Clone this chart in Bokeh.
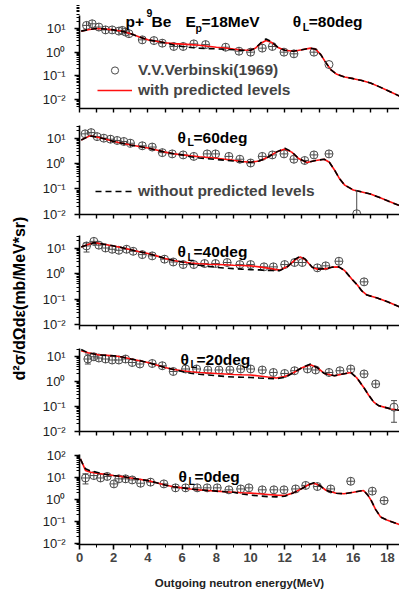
from math import pi
from bokeh.plotting import figure
from bokeh.models import (Range1d, FixedTicker, Label, Whisker, ColumnDataSource,
                          Legend, LegendItem, TeeHead)
from bokeh.layouts import row, column
from bokeh.embed import file_html
from bokeh.resources import INLINE

FONT = "Liberation Sans"
RED = "#ff1010"
PT = "#4a4a4a"
X_MAX = 18.7

# ---------------- data (E in MeV, d2sigma in mb/MeV/sr) ----------------
ANGLES = [80, 60, 40, 20, 0]

E80 = [0.1, 0.5, 1.0, 1.5, 2.0, 2.5, 3.0, 3.5, 4.0, 4.5, 5.0, 5.5, 6.0, 6.5, 7.0, 7.5, 8.0, 8.5, 9.0, 9.5,
       10.0, 10.3, 10.6, 10.9, 11.2, 11.6, 12.0, 12.5, 13.0, 13.5, 13.8, 14.1, 14.4, 14.7, 15.0, 15.5, 16.0,
       16.5, 17.0, 17.5, 18.0, 18.7]
RED80 = [7.76, 8.91, 10.0, 9.55, 8.71, 7.59, 6.03, 4.37, 3.31, 2.88, 2.51, 2.29, 2.19, 2.09, 1.95, 1.78, 1.62,
         1.51, 1.35, 1.23, 1.20, 1.51, 2.40, 3.09, 2.63, 1.58, 1.20, 1.10, 1.26, 1.48, 1.32, 0.79, 0.355,
         0.178, 0.12, 0.089, 0.076, 0.063, 0.05, 0.035, 0.024, 0.014]
BLK80 = [7.76, 8.91, 10.0, 9.55, 8.71, 7.59, 6.03, 4.37, 3.31, 2.88, 2.51, 2.0, 1.74, 1.58, 1.48, 1.41, 1.38,
         1.32, 1.26, 1.20, 1.20, 1.51, 2.51, 3.63, 2.82, 1.58, 1.20, 1.10, 1.26, 1.48, 1.32, 0.79, 0.355,
         0.178, 0.12, 0.089, 0.076, 0.063, 0.05, 0.035, 0.024, 0.014]

E60 = [0.1, 0.6, 1.0, 1.5, 2.0, 2.5, 3.0, 3.5, 4.0, 4.5, 5.0, 5.5, 6.0, 6.5, 7.0, 7.5, 8.0, 8.5, 9.0, 9.5,
       10.0, 10.5, 11.0, 11.5, 12.0, 12.4, 12.8, 13.3, 13.8, 14.3, 14.6, 14.9, 15.2, 15.5, 16.0, 16.5, 17.0,
       17.5, 18.0, 18.7]
RED60 = [8.51, 12.3, 11.2, 9.33, 7.41, 6.31, 5.37, 4.68, 4.07, 3.39, 2.82, 2.45, 2.19, 2.0, 1.86, 1.74, 1.62,
         1.48, 1.35, 1.20, 1.12, 1.26, 1.78, 2.82, 3.72, 2.82, 1.58, 1.10, 1.32, 1.48, 1.12, 0.56, 0.25,
         0.141, 0.091, 0.076, 0.063, 0.047, 0.034, 0.022]
BLK60 = [8.51, 12.3, 11.2, 9.33, 7.41, 6.31, 5.37, 4.68, 4.07, 3.39, 2.82, 2.45, 2.19, 1.86, 1.66, 1.55, 1.45,
         1.35, 1.26, 1.17, 1.12, 1.26, 1.78, 2.82, 3.98, 2.95, 1.58, 1.10, 1.32, 1.48, 1.12, 0.56, 0.25,
         0.141, 0.091, 0.076, 0.063, 0.047, 0.034, 0.022]

E40 = [0.1, 0.5, 0.85, 1.5, 2.0, 2.5, 3.0, 3.5, 4.0, 4.5, 5.0, 5.5, 6.0, 6.5, 7.0, 7.5, 8.0, 8.5, 9.0, 9.5,
       10.0, 10.5, 11.0, 11.7, 12.2, 12.6, 12.9, 13.2, 13.6, 13.9, 14.4, 14.8, 15.15, 15.5, 15.9, 16.25,
       16.5, 16.8, 17.4, 18.0, 18.7]
RED40 = [11.2, 14.1, 16.6, 14.1, 12.3, 10.5, 8.71, 7.24, 6.17, 5.01, 3.98, 3.31, 2.88, 2.63, 2.45, 2.34, 2.29,
         2.24, 2.14, 2.09, 2.04, 1.86, 1.66, 1.38, 2.0, 3.55, 4.57, 3.55, 1.78, 1.51, 1.58, 1.82, 1.86, 1.32,
         0.63, 0.355, 0.21, 0.145, 0.112, 0.079, 0.05]
BLK40 = [11.2, 14.1, 16.6, 14.1, 12.3, 10.5, 8.71, 7.24, 6.17, 5.01, 3.98, 3.31, 2.88, 2.40, 2.14, 1.95, 1.78,
         1.66, 1.58, 1.51, 1.45, 1.41, 1.35, 1.32, 2.0, 3.72, 4.90, 3.72, 1.78, 1.51, 1.58, 1.82, 1.86, 1.32,
         0.63, 0.355, 0.21, 0.145, 0.112, 0.079, 0.05]

E20 = [0.1, 0.5, 1.1, 2.0, 2.5, 3.0, 3.5, 4.0, 4.5, 5.0, 5.5, 6.0, 6.5, 7.0, 7.5, 8.0, 8.5, 9.0, 9.5, 10.0,
       10.5, 11.0, 11.5, 12.0, 12.5, 13.0, 13.5, 13.9, 14.3, 14.9, 15.4, 15.85, 16.2, 16.6, 16.9, 17.2, 17.5,
       17.8, 18.2, 18.7]
RED20 = [17.0, 14.1, 11.7, 10.7, 9.55, 7.94, 6.76, 5.75, 4.57, 3.63, 3.02, 2.69, 2.45, 2.29, 2.19, 2.09, 2.0,
         1.91, 1.86, 1.82, 1.66, 1.51, 1.38, 1.58, 2.24, 3.55, 4.68, 3.55, 2.09, 1.70, 2.0, 2.29, 1.41, 0.59,
         0.28, 0.148, 0.105, 0.093, 0.079, 0.069]
BLK20 = [19.1, 14.1, 11.7, 10.7, 9.55, 7.94, 6.76, 5.75, 4.57, 3.63, 3.02, 2.51, 2.14, 1.95, 1.82, 1.70, 1.58,
         1.51, 1.48, 1.45, 1.38, 1.32, 1.29, 1.45, 2.24, 3.55, 5.01, 3.55, 2.09, 1.70, 2.0, 2.29, 1.41, 0.59,
         0.28, 0.148, 0.105, 0.093, 0.079, 0.069]

E0 = [0.05, 0.2, 0.35, 0.65, 1.0, 1.5, 2.0, 2.5, 3.0, 3.5, 4.0, 4.5, 5.0, 5.5, 6.0, 6.5, 7.0, 7.5, 8.0, 8.5,
      9.0, 9.5, 10.0, 10.5, 11.0, 11.5, 12.0, 12.5, 13.0, 13.4, 13.7, 14.0, 14.4, 15.0, 15.46, 16.0, 16.6,
      16.85, 17.05, 17.3, 17.6, 18.0, 18.4, 18.7]
RED0 = [70.8, 39.8, 20.9, 17.4, 15.8, 14.1, 12.3, 11.0, 9.55, 8.32, 7.24, 5.75, 4.57, 3.80, 3.39, 3.02, 2.75,
        2.57, 2.40, 2.24, 2.14, 2.04, 1.95, 1.82, 1.70, 1.58, 1.51, 2.0, 3.16, 4.79, 5.50, 4.47, 2.63, 1.91,
        1.82, 2.14, 2.57, 1.58, 0.89, 0.355, 0.158, 0.112, 0.087, 0.072]
BLK0 = [70.8, 39.8, 25.1, 20.0, 17.4, 14.1, 12.3, 11.0, 9.55, 8.32, 7.24, 5.75, 4.57, 3.80, 3.39, 3.02, 2.75,
        2.57, 2.40, 2.24, 2.14, 1.78, 1.58, 1.45, 1.35, 1.32, 1.41, 2.0, 3.16, 4.79, 5.75, 4.57, 2.63, 1.91,
        1.82, 2.14, 2.57, 1.58, 0.89, 0.355, 0.158, 0.112, 0.087, 0.072]

# experimental points (V.V.Verbinski 1969)
X80 = [0.41, 0.74, 1.13, 1.52, 1.91, 2.30, 2.50, 2.69, 2.89, 3.67, 4.35, 4.84, 5.51, 6.06, 6.68, 7.37, 8.54,
       9.32, 10.0, 10.68, 11.27, 11.95, 12.53, 13.70]
Y80 = [13.5, 15.8, 11.5, 8.71, 8.71, 7.76, 8.32, 7.08, 6.03, 3.31, 3.09, 2.40, 1.74, 1.74, 2.24, 2.09, 1.62,
       1.10, 1.0, 1.48, 1.74, 1.0, 0.85, 1.0]
OX80, OY80 = [14.58], [0.30]

X60 = [0.33, 0.68, 1.03, 1.42, 1.81, 2.2, 2.59, 2.98, 3.67, 4.25, 4.84, 5.42, 6.06, 6.68, 7.46, 7.95, 8.73,
       9.37, 10.0, 10.68, 11.27, 11.95, 12.53, 13.16, 13.7, 14.58]
Y60 = [14.8, 16.6, 11.5, 10.0, 9.12, 8.13, 7.41, 6.31, 5.01, 4.47, 2.69, 2.40, 2.19, 1.91, 2.40, 2.40, 1.91,
       1.48, 1.05, 1.91, 2.19, 2.40, 1.48, 1.32, 2.19, 2.40]
OX60, OY60 = [16.2], [0.0105]
OERR60 = [0.09]

X40 = [0.41, 0.84, 1.13, 1.52, 1.91, 2.3, 2.75, 3.14, 3.67, 4.25, 4.97, 5.48, 6.06, 6.68, 7.31, 7.95, 8.63,
       9.37, 10.0, 10.78, 11.33, 11.99, 12.57, 13.02, 13.9, 14.39, 15.16, 16.63]
Y40 = [12.3, 18.6, 13.2, 10.2, 9.12, 8.32, 9.12, 7.59, 5.62, 5.01, 3.72, 2.88, 2.29, 2.29, 2.51, 2.51, 2.75,
       2.29, 2.29, 1.86, 1.86, 2.29, 2.75, 2.75, 1.70, 2.04, 3.09, 0.48]
ERR40 = dict(base=[0.41], lower=[7.1], upper=[16.0])

X20 = [0.49, 0.84, 1.13, 1.52, 1.91, 2.3, 2.69, 3.08, 3.53, 4.25, 4.84, 5.48, 6.2, 6.84, 7.5, 8.15, 8.79,
       9.42, 10.0, 10.68, 11.33, 11.99, 12.57, 13.32, 13.8, 14.58, 15.22, 15.85, 16.63, 17.31]
Y20 = [7.94, 9.77, 8.71, 7.94, 7.24, 7.24, 7.94, 5.75, 5.01, 5.25, 4.27, 2.51, 3.16, 3.16, 2.88, 2.88, 2.88,
       3.16, 3.16, 2.88, 2.29, 2.09, 2.69, 3.16, 2.88, 2.29, 2.69, 3.16, 2.0, 0.79]
OX20, OY20 = [18.38], [0.093]
ERR20 = dict(base=[0.49, 18.38], lower=[5.0, 0.023], upper=[12.6, 0.17])

X0 = [0.35, 0.84, 1.23, 1.62, 2.01, 2.3, 2.69, 3.08, 3.57, 4.15, 4.93, 5.61, 6.2, 6.88, 7.46, 8.05, 8.73,
      9.42, 9.9, 10.68, 11.36, 11.95, 12.63, 13.22, 13.9, 14.68, 15.85, 17.11, 17.8]
Y0 = [9.55, 12.3, 9.55, 11.2, 5.13, 8.71, 8.71, 7.76, 5.50, 6.17, 5.13, 3.39, 3.39, 3.39, 3.39, 3.39, 2.75,
      3.02, 3.39, 2.75, 2.75, 2.75, 3.02, 4.37, 3.89, 3.02, 6.76, 2.40, 0.89]
ERR0 = dict(base=[0.35], lower=[5.1], upper=[14.8])

X_TICKS = [0, 2, 4, 6, 8, 10, 12, 14, 16, 18]
X_MINOR = [1, 3, 5, 7, 9, 11, 13, 15, 17]
Y_TICKS = [0.01, 0.1, 1, 10, 100]
Y_TICK_LABELS = ["10\u207b\u00b2", "10\u207b\u00b9", "10\u2070", "10\u00b9", "10\u00b2"]

# ---------------- layout ----------------
TOTAL_W, TOTAL_H = 399, 592
TITLE_W = 30
FIG_W = TOTAL_W - TITLE_W
LEFT = 49

specs = [
    # yr: visible range, yb: axis bounds (None = whole range)
    dict(E=E80, R=RED80, B=BLK80, X=X80, Y=Y80, yr=(0.00417, 113.8), yb=(0.00417, 35.5), h=116, t=3, b=8,
         yt=Y_TICKS[:4]),
    dict(E=E60, R=RED60, B=BLK60, X=X60, Y=Y60, yr=(0.0098, 31.6), yb=None, h=108, t=9, b=10, yt=Y_TICKS[:4]),
    dict(E=E40, R=RED40, B=BLK40, X=X40, Y=Y40, yr=(0.0093, 31.6), yb=None, h=112, t=11, b=11, yt=Y_TICKS[:4]),
    dict(E=E20, R=RED20, B=BLK20, X=X20, Y=Y20, yr=(0.0098, 21.0), yb=None, h=106, t=12, b=11, yt=Y_TICKS[:4]),
    dict(E=E0, R=RED0, B=BLK0, X=X0, Y=Y0, yr=(0.0089, 112.0), yb=None, h=150, t=12, b=48, yt=Y_TICKS),
]

# title anchor (E), base y, sub y
TITLE_POS = [(12.46, 20.3, 11.35), (5.73, 10.2, 7.15), (5.73, 7.16, 4.57), (5.9, 7.87, 5.13), (5.79, 11.1, 6.6)]

minor_y = [k * 10.0 ** d for d in range(-3, 3) for k in range(2, 10)]


def label(p, x, y, text, size="15.5px", xo=0, bold=True):
    p.add_layout(Label(x=x, y=y, x_offset=xo, text=text, text_font=FONT, text_font_size=size,
                       text_font_style="bold" if bold else "normal", text_color="black",
                       text_baseline="alphabetic", text_align="left"))


figs = []
for i, s in enumerate(specs):
    last = i == len(specs) - 1
    p = figure(width=FIG_W, height=s["h"], y_axis_type="log",
               x_range=Range1d(0, X_MAX), y_range=Range1d(*s["yr"]),
               toolbar_location=None, output_backend="svg",
               min_border_left=LEFT, min_border_right=0,
               min_border_top=s["t"], min_border_bottom=s["b"])
    p.outline_line_color = None
    p.grid.visible = False
    p.background_fill_color = "white"

    # axes
    if last:
        p.xaxis.ticker = FixedTicker(ticks=X_TICKS, minor_ticks=X_MINOR)
    else:
        # unlabeled panels: every tick drawn as a (minor) tick, so no tick labels exist
        p.xaxis.ticker = FixedTicker(ticks=[], minor_ticks=sorted(X_TICKS + X_MINOR))
    p.yaxis.ticker = FixedTicker(ticks=s["yt"], minor_ticks=minor_y)
    p.yaxis.major_label_overrides = {t: l for t, l in zip(Y_TICKS, Y_TICK_LABELS) if t in s["yt"]}
    if s["yb"] is not None:
        p.yaxis.bounds = s["yb"]
    for ax in (p.xaxis[0], p.yaxis[0]):
        ax.axis_line_width = 1.6
        ax.axis_line_color = "black"
        ax.major_tick_line_width = 1.6
        ax.minor_tick_line_width = 1
        ax.major_tick_line_color = "black"
        ax.minor_tick_line_color = "black"
        ax.major_tick_in = 0
        ax.minor_tick_in = 0
        ax.major_tick_out = 5
        ax.minor_tick_out = 3
    if not last:
        p.xaxis.minor_tick_out = 4
        p.xaxis.minor_tick_line_width = 1.4
    p.yaxis.major_label_text_font = FONT
    p.yaxis.major_label_text_font_size = "13px"
    p.yaxis.major_label_text_color = "#222222"
    p.yaxis.major_label_standoff = 9
    if last:
        p.xaxis.major_label_text_font = FONT
        p.xaxis.major_label_text_font_size = "13px"
        p.xaxis.major_label_text_font_style = "bold"
        p.xaxis.major_label_standoff = 3
        p.xaxis.axis_label = "Outgoing neutron energy(MeV)"
        p.xaxis.axis_label_text_font = FONT
        p.xaxis.axis_label_text_font_size = "11.5px"
        p.xaxis.axis_label_text_font_style = "bold"
        p.xaxis.axis_label_text_color = "#222222"
        p.xaxis.axis_label_standoff = 12

    # data points
    p.scatter(s["X"], s["Y"], marker="circle_cross", size=8, line_color=PT, line_width=1,
              fill_alpha=0)

    # curves
    red_r = p.line(s["E"], s["R"], line_color=RED, line_width=1.6)
    blk_r = p.line(s["E"], s["B"], line_color="black", line_width=1.6, line_dash="6 4")

    figs.append((p, red_r, blk_r))

# extra open points, error bars, legends
p1, red1, blk1 = figs[0]
open1 = p1.scatter(OX80, OY80, marker="circle", size=8, line_color=PT, line_width=1, fill_alpha=0)
p1.add_layout(Legend(items=[LegendItem(label="V.V.Verbinski(1969)", renderers=[open1]),
                            LegendItem(label="with predicted levels", renderers=[red1])],
                     location=(18, 9), padding=0, margin=0, spacing=2, glyph_width=35, glyph_height=18,
                     label_height=18, label_standoff=6, border_line_color=None, background_fill_alpha=0,
                     label_text_font=FONT, label_text_font_size="15.5px", label_text_font_style="bold"))

p2, red2, blk2 = figs[1]
p2.scatter(OX60, OY60, marker="circle", size=8, line_color=PT, line_width=1, fill_alpha=0)
p2.segment(OX60, OY60, OX60, OERR60, line_color=PT, line_width=1)
p2.add_layout(Legend(items=[LegendItem(label="without predicted levels", renderers=[blk2])],
                     location=(16, 14), padding=0, margin=0, spacing=0, glyph_width=40, glyph_height=18,
                     label_height=18, label_standoff=3, border_line_color=None, background_fill_alpha=0,
                     label_text_font=FONT, label_text_font_size="15.5px", label_text_font_style="bold"))

p4 = figs[3][0]
p4.scatter(OX20, OY20, marker="circle", size=8, line_color=PT, line_width=1, fill_alpha=0)

for (p, _, _), err in ((figs[2], ERR40), (figs[3], ERR20), (figs[4], ERR0)):
    p.add_layout(Whisker(source=ColumnDataSource(err), base="base", lower="lower", upper="upper",
                         dimension="height", line_color=PT, line_width=1,
                         upper_head=TeeHead(size=6, line_color=PT, line_width=1),
                         lower_head=TeeHead(size=6, line_color=PT, line_width=1)))

# panel titles
for (p, _, _), ang, (ex, yb, ys) in zip(figs, ANGLES, TITLE_POS):
    label(p, ex, yb, "\u03b8")
    label(p, ex, ys, "L", size="10.5px", xo=10)
    label(p, ex, yb, "=%ddeg" % ang, xo=16)

# reaction header in top panel
label(p1, 2.69, 20.3, "p+")
label(p1, 2.69, 47.3, "9", size="10.5px", xo=21)
label(p1, 2.69, 20.3, "Be", xo=26)
label(p1, 2.69, 20.3, "E", xo=60)
label(p1, 2.69, 11.0, "p", size="10.5px", xo=70)
label(p1, 2.69, 20.3, "=18MeV", xo=76)

# y-axis title in a narrow side figure
tf = figure(width=TITLE_W, height=TOTAL_H, x_range=Range1d(0, TITLE_W), y_range=Range1d(0, TOTAL_H),
            x_axis_type=None, y_axis_type=None, toolbar_location=None, output_backend="svg",
            min_border=0)
tf.outline_line_color = None
tf.grid.visible = False
tf.add_layout(Label(x=19, y=TOTAL_H - 298, text="d\u00b2\u03c3/d\u03a9d\u03b5(mb/MeV*sr)", angle=pi / 2,
                    text_align="center", text_baseline="middle", text_font=FONT,
                    text_font_size="16px", text_font_style="bold", text_color="black"))

layout = row(tf, column(*[f[0] for f in figs], spacing=0), spacing=0)
open("out.html", "w").write(file_html(layout, INLINE))
